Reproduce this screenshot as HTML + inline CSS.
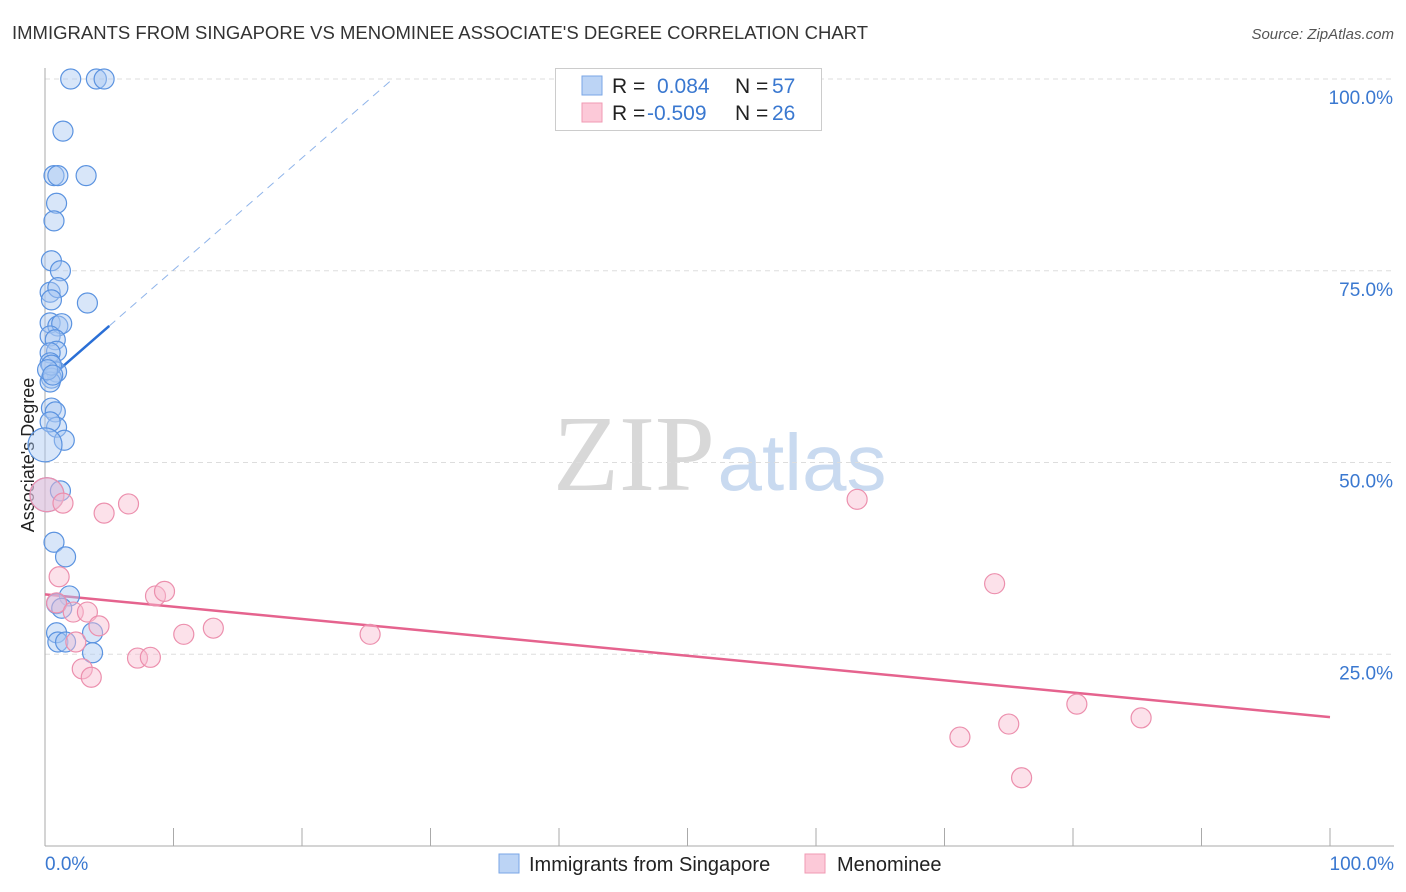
<!DOCTYPE html>
<html><head><meta charset="utf-8"><style>
body{margin:0;background:#fff;font-family:"Liberation Sans",sans-serif;}
#wrap{position:relative;width:1406px;height:892px;overflow:hidden;}
</style></head><body>
<div id="wrap">
<svg id="svg" width="1406" height="892" xmlns="http://www.w3.org/2000/svg">
<text x="12" y="39" font-size="18.5" fill="#333" textLength="856">IMMIGRANTS FROM SINGAPORE VS MENOMINEE ASSOCIATE'S DEGREE CORRELATION CHART</text>
<text x="1394" y="39" font-size="15" fill="#555" font-style="italic" text-anchor="end">Source: ZipAtlas.com</text>
<text x="34" y="455" font-size="18" fill="#222" text-anchor="middle" transform="rotate(-90 34 455)">Associate's Degree</text>
<g>
<text x="634" y="490" font-size="108" fill="#d8d8d8" font-family="Liberation Serif,serif" text-anchor="middle">ZIP</text>
<text x="802" y="490" font-size="80" fill="#c9daf0" text-anchor="middle">atlas</text>
</g>
<g id="grid"></g><g id="axes"></g><g id="lines"></g><g id="pts"></g>
<g>
<rect x="555.5" y="68.5" width="266" height="62" fill="#fff" stroke="#ccc"/>
<rect x="582" y="76" width="20" height="19" fill="#bcd4f5" stroke="#7aa6e6"/>
<rect x="582" y="103" width="20" height="19" fill="#fcc9d8" stroke="#f09ab3"/>
<text x="612" y="93" font-size="21" fill="#222">R =</text>
<text x="657" y="93" font-size="21" fill="#3a78d0">0.084</text>
<text x="735" y="93" font-size="21" fill="#222">N =</text>
<text x="772" y="93" font-size="21" fill="#3a78d0">57</text>
<text x="612" y="120" font-size="21" fill="#222">R =</text>
<text x="647" y="120" font-size="21" fill="#3a78d0">-0.509</text>
<text x="735" y="120" font-size="21" fill="#222">N =</text>
<text x="772" y="120" font-size="21" fill="#3a78d0">26</text>
</g>
<g>
<rect x="499" y="854" width="20" height="19" fill="#bcd4f5" stroke="#7aa6e6"/>
<text x="529" y="871" font-size="20" fill="#222">Immigrants from Singapore</text></g>
<g>
<rect x="805" y="854" width="20" height="19" fill="#fcc9d8" stroke="#f09ab3"/>
<text x="837" y="871" font-size="20" fill="#222">Menominee</text></g>
</svg></div>
<script>
const yTicks=[100,75,50,25];
const yTickLabels=["100.0%","75.0%","50.0%","25.0%"];
const xLabels=["0.0%","100.0%"];
const blueX=[2.0,4.0,4.6,1.4,0.7,1.0,3.2,0.9,0.7,0.5,1.2,0.4,1.0,0.5,3.3,0.4,1.0,1.3,0.4,0.8,0.9,0.4,0.4,0.9,0.5,0.4,0.5,0.2,0.6,0.5,0.8,0.9,0.4,1.5,0.0,0.15,1.2,0.7,1.6,1.9,0.9,1.3,0.9,3.7,1.0,1.6,3.7];
const blueY=[100,100,100,93.2,87.4,87.4,87.4,83.8,81.5,76.3,75.0,72.2,72.8,71.2,70.8,68.2,67.8,68.1,66.5,66.0,64.5,64.3,63.0,61.8,61.0,60.5,62.7,62.1,61.4,57.1,56.6,54.6,55.3,52.9,52.3,45.8,46.3,39.6,37.7,32.6,31.6,31.0,27.8,27.8,26.6,26.6,25.2];
const pinkX=[0.15,1.4,4.6,6.5,63.2,1.1,73.9,8.6,9.3,0.9,2.2,3.3,4.2,10.8,13.1,25.3,2.4,7.2,8.2,2.9,3.6,80.3,75.0,85.3,71.2,76.0];
const pinkY=[45.8,44.7,43.4,44.6,45.2,35.1,34.2,32.6,33.2,31.7,30.5,30.5,28.7,27.6,28.4,27.6,26.6,24.5,24.6,23.1,22.0,18.5,15.9,16.7,14.2,8.9];
const blueTrend=[60.5,1.46];
const pinkTrend=[32.8,-0.16];
const X=v=>45+v*12.85, Y=v=>846-v*7.67;
const NS="http://www.w3.org/2000/svg";
function mk(p,t,a){const e=document.createElementNS(NS,t);for(const k in a)e.setAttribute(k,a[k]);document.getElementById(p).appendChild(e);return e;}
yTicks.forEach((t,i)=>{
 const g=mk('grid','line',{x1:45,x2:1394,y1:Y(t),y2:Y(t),stroke:'#ddd','stroke-dasharray':'5,4'});
 
 
 const l=mk('axes','text',{x:1393,y:Y(t)+25,'font-size':19,fill:'#3a78d0','text-anchor':'end'});
 l.textContent=yTickLabels[i];
 
 
});
const ax=mk('axes','line',{x1:45,x2:45,y1:68,y2:846,stroke:'#aaa'});


const bx=mk('axes','line',{x1:45,x2:1394,y1:846,y2:846,stroke:'#aaa'});


for(let i=0;i<=10;i++){const t=mk('axes','line',{x1:X(i*10),x2:X(i*10),y1:828,y2:846,stroke:'#aaa'});
 
 }
[[0,'start',45],[1,'end',1394]].forEach(([i,a,x])=>{const t=mk('axes','text',{x:x,y:870,'font-size':19,fill:'#3a78d0','text-anchor':a});t.textContent=xLabels[i];
 
 });
function pts(xs,ys,fill,stroke,name){xs.forEach((x,i)=>{const big=(i===34&&name==='blue-point')||(i===35&&name==='blue-point')||(i===0&&name==='pink-point');
 const c=mk('pts','circle',{cx:X(x),cy:Y(ys[i]),r:big?17:10,fill:fill,'fill-opacity':0.45,stroke:stroke,'stroke-width':1.2});
 
 });}
pts(blueX,blueY,'#a9c7f2','#5b93e0','blue-point');
pts(pinkX,pinkY,'#f9bdd0','#ec8fad','pink-point');
const bEnd=(100-blueTrend[0])/blueTrend[1];
const l1=mk('lines','line',{x1:X(0),y1:Y(blueTrend[0]),x2:X(5),y2:Y(blueTrend[0]+5*blueTrend[1]),stroke:'#2a6fd6','stroke-width':2.5});


const l2=mk('lines','line',{x1:X(5),y1:Y(blueTrend[0]+5*blueTrend[1]),x2:X(bEnd),y2:Y(100),stroke:'#8fb4ea','stroke-width':1,'stroke-dasharray':'8,6'});


const l3=mk('lines','line',{x1:X(0),y1:Y(pinkTrend[0]),x2:X(100),y2:Y(pinkTrend[0]+100*pinkTrend[1]),stroke:'#e5638e','stroke-width':2.5});


</script>
</body></html>
